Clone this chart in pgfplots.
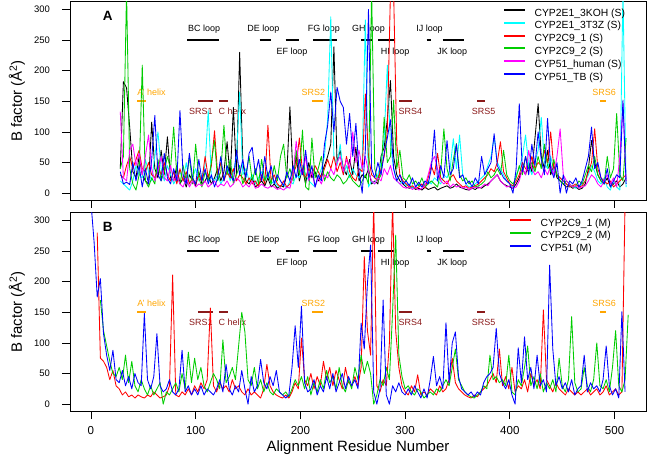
\documentclass[border=0pt]{standalone}
\usepackage{fontspec}
\setmainfont{Liberation Sans}
\usepackage{pgfplots}
\usepackage{pgfplotstable}
\pgfplotsset{compat=1.18}
\definecolor{cgreen}{RGB}{0,205,0}
\definecolor{ccyan}{RGB}{0,255,255}
\definecolor{cmagenta}{RGB}{255,0,255}
\definecolor{cdarkred}{RGB}{139,26,26}
\definecolor{corange}{RGB}{255,165,0}

\pgfplotstableread{
x k c r g m b
28 40 20 30 40 133 35
31 182 15 25 60 25 15
34 172 10 45 330 20 18
37 108 5 60 40 70 14
40 35 20 40 15 80 50
43 25 45 55 5 45 20
46 60 30 70 30 65 45
49 30 25 40 209 30 10
52 20 55 35 20 60 40
55 15 35 50 10 95 15
58 116 20 30 25 40 55
61 40 60 25 15 20 127
64 25 100 45 55 35 30
67 70 40 30 20 60 20
70 30 20 50 35 25 65
73 92 45 30 60 20 25
76 25 30 20 40 45 15
79 20 15 35 108 20 40
82 45 25 15 30 30 20
85 15 35 40 15 15 135
88 25 20 20 45 10 30
91 10 50 35 20 25 15
94 30 15 15 60 10 65
97 20 25 25 15 20 25
100 12 40 15 80 10 15
103 35 20 30 25 15 55
106 15 30 20 10 12 20
109 20 45 60 35 20 40
112 30 135 25 20 10 15
115 15 25 45 50 15 30
118 25 20 102 86 20 10
121 40 30 30 20 10 25
124 20 15 50 35 15 60
127 35 25 20 111 12 20
130 84 40 35 30 20 45
133 25 20 25 55 10 30
136 140 35 40 15 15 20
139 30 60 20 30 25 70
142 230 165 30 45 20 30
145 50 30 25 15 10 55
148 20 40 15 30 15 25
151 15 20 25 60 10 65
154 25 30 15 20 20 75
157 10 15 20 40 8 30
160 15 25 10 15 10 55
163 20 35 30 55 15 20
166 12 20 15 20 10 60
169 25 30 111 35 8 25
172 10 15 20 15 12 45
175 15 20 30 45 10 15
178 8 12 15 20 6 30
181 12 10 10 60 8 20
184 10 15 20 80 5 12
187 30 8 10 25 10 35
190 141 20 15 40 8 20
193 25 15 30 20 30 45
196 60 30 45 70 85 25
199 20 25 90 30 40 55
202 40 45 35 103 30 30
205 15 30 25 10 60 70
208 50 20 40 5 20 25
211 25 15 30 90 35 45
214 35 10 45 25 10 10
217 20 25 35 40 25 30
220 30 40 25 60 15 20
223 45 60 40 20 30 80
226 60 120 55 35 25 110
229 80 288 40 25 40 165
232 239 60 60 20 30 100
235 50 45 35 30 50 173
238 70 80 50 25 60 150
241 40 30 30 15 35 140
244 30 45 60 20 55 80
247 55 25 35 30 40 130
250 30 40 25 20 100 60
253 75 30 20 15 50 114
256 20 25 40 10 70 35
259 30 50 35 20 40 0
262 25 283 162 30 60 70
265 40 10 60 15 35 300
268 15 20 30 330 20 40
271 20 15 25 40 15 25
274 15 30 20 20 25 50
277 60 50 40 30 20 30
280 75 90 60 124 40 65
283 120 209 100 50 30 90
286 184 80 330 60 45 120
289 60 40 330 152 25 40
292 30 20 80 40 20 20
295 20 15 30 70 15 30
298 15 20 20 25 10 15
301 10 12 15 20 8 20
304 8 15 10 30 10 12
307 10 8 12 15 6 25
310 6 10 8 20 10 10
313 8 15 10 12 5 18
316 5 10 15 25 8 10
319 10 12 8 10 12 20
322 6 20 25 15 30 15
325 8 15 45 20 50 40
328 10 25 30 15 60 103
331 5 20 65 10 40 20
334 8 15 25 35 20 45
337 10 30 20 105 15 25
340 12 25 15 40 20 86
343 8 40 25 20 10 30
346 10 89 30 55 15 40
349 15 40 20 81 10 80
352 10 95 15 30 12 25
355 8 30 10 20 8 30
358 6 15 12 25 10 15
361 5 10 8 15 5 20
364 8 12 10 20 8 10
367 6 15 12 10 10 25
370 10 20 15 12 8 15
373 8 25 20 15 10 60
376 12 30 25 20 15 30
379 15 45 30 35 12 40
382 20 60 40 25 20 50
385 25 92 35 30 25 97
388 30 50 50 40 30 45
391 20 40 84 30 20 35
394 15 30 35 70 15 25
397 12 20 25 30 10 20
400 10 15 15 20 12 15
403 8 10 12 15 8 0
406 15 30 20 25 10 40
409 25 40 30 45 20 146
412 40 60 50 30 40 35
415 30 95 40 60 30 60
418 50 45 35 40 70 30
421 35 30 60 50 40 80
424 90 50 40 35 30 45
427 146 70 50 60 35 100
430 60 124 45 40 25 55
433 40 50 70 80 40 30
436 70 40 50 45 30 122
439 30 60 100 35 45 40
442 45 35 40 55 30 25
445 25 30 30 30 60 50
448 20 25 25 20 105 0
451 15 20 20 15 30 30
454 10 15 15 20 20 0
457 12 10 10 15 15 20
460 8 12 12 10 10 15
463 10 8 15 12 12 25
466 6 10 10 20 8 10
469 8 15 12 15 10 20
472 15 20 20 30 12 40
475 40 30 35 45 20 60
478 86 45 50 35 30 108
481 50 35 105 60 25 40
484 30 20 40 30 15 50
487 20 15 25 20 10 25
490 15 25 20 15 20 15
493 25 10 15 60 30 40
496 10 5 20 25 15 10
499 15 20 10 40 25 20
502 20 10 15 130 10 30
505 10 5 20 30 60 25
508 15 330 25 20 145 152
511 25 10 30 90 20 15
}\topdata

\pgfplotstableread{
x r g b
0 nan nan 330
3 nan nan 265
6 280 nan 175
9 75 170 205
12 70 120 115
15 60 95 80
18 40 70 55
21 55 50 88
24 30 45 40
27 25 60 35
30 15 40 55
33 20 80 30
36 12 35 45
39 15 70 25
42 10 30 50
45 15 20 35
48 12 40 30
51 10 25 148
54 15 15 40
57 12 30 25
60 20 15 45
63 15 25 115
66 10 35 30
69 12 0 20
72 15 20 25
75 30 15 40
78 211 25 20
81 15 35 15
84 12 20 25
87 20 50 88
90 15 25 20
93 25 85 30
96 15 35 15
99 30 75 25
102 20 40 15
105 35 60 30
108 25 30 15
111 40 20 25
114 157 35 20
117 30 50 15
120 20 40 25
123 35 25 40
126 25 105 20
129 30 35 65
132 20 45 25
135 40 60 15
138 25 40 30
141 30 95 20
144 20 150 55
147 15 118 25
150 25 40 0
153 15 30 45
156 20 60 20
159 15 25 30
162 10 40 73
165 25 20 35
168 65 35 25
171 30 20 45
174 20 15 30
177 15 25 55
180 12 20 20
183 10 15 15
186 15 20 10
189 10 12 15
192 20 25 60
195 35 40 128
198 25 30 60
201 108 45 160
204 40 25 35
207 30 45 20
210 50 15 25
213 25 35 40
216 45 20 15
219 30 40 30
222 70 25 20
225 40 55 45
228 60 35 25
231 30 45 50
234 55 25 20
237 40 60 35
240 25 30 50
243 60 20 25
246 35 40 45
249 30 25 30
252 45 60 40
255 30 40 25
258 60 80 132
261 241 50 90
264 120 70 197
267 80 50 260
270 330 0 20
273 30 15 0
276 20 40 25
279 40 30 170
282 30 60 15
285 100 40 0
288 330 150 30
291 120 276 20
294 60 80 35
297 30 45 20
300 20 25 15
303 15 30 25
306 30 20 15
309 20 15 30
312 48 25 20
315 15 20 10
318 20 10 25
321 15 15 10
324 25 20 40
327 20 15 78
330 15 25 30
333 30 20 45
336 20 30 25
339 25 40 133
342 40 30 35
345 75 60 100
348 35 90 118
351 25 40 45
354 20 30 25
357 15 20 20
360 12 15 15
363 10 12 20
366 15 10 12
369 12 15 20
372 20 20 15
375 25 30 35
378 30 25 45
381 40 80 50
384 50 40 60
387 35 45 124
390 90 35 50
393 30 40 35
396 45 30 25
399 25 80 40
402 60 20 15
405 20 15 0
408 30 40 92
411 25 30 35
414 40 60 110
417 20 95 40
420 50 30 60
423 30 45 25
426 40 25 80
429 25 50 30
432 154 20 40
435 40 35 20
438 30 25 227
441 20 40 90
444 35 20 30
447 25 75 45
450 20 30 25
453 15 20 35
456 25 40 20
459 20 143 40
462 15 35 15
465 20 20 25
468 15 25 30
471 20 60 80
474 25 30 20
477 15 20 35
480 20 40 25
483 25 100 30
486 15 30 20
489 20 25 40
492 30 40 95
495 15 20 30
498 20 60 15
501 25 120 25
504 15 30 10
507 20 20 151
510 330 40 20
513 nan 146 nan
}\botdata

\newcommand{\annfont}{\fontsize{9}{10}\selectfont}
\newcommand{\annots}{%
 \draw[line width=2bp] (axis cs:92,250) -- (axis cs:122,250);
 \node[font=\annfont] at (axis cs:108,267) {BC loop};
 \draw[line width=2bp] (axis cs:161,250) -- (axis cs:172,250);
 \node[font=\annfont] at (axis cs:164.6,267) {DE loop};
 \draw[line width=2bp] (axis cs:186,250) -- (axis cs:199,250);
 \node[font=\annfont] at (axis cs:192,231) {EF loop};
 \draw[line width=2bp] (axis cs:212,250) -- (axis cs:235,250);
 \node[font=\annfont] at (axis cs:222.4,267) {FG loop};
 \draw[line width=2bp] (axis cs:258,250) -- (axis cs:269,250);
 \node[font=\annfont] at (axis cs:265,267) {GH loop};
 \draw[line width=2bp] (axis cs:274.5,250) -- (axis cs:289.7,250);
 \node[font=\annfont] at (axis cs:290.4,231) {HI loop};
 \draw[line width=2bp] (axis cs:320.6,250) -- (axis cs:324.6,250);
 \node[font=\annfont] at (axis cs:323.3,267) {IJ loop};
 \draw[line width=2bp] (axis cs:335.9,250) -- (axis cs:356,250);
 \node[font=\annfont] at (axis cs:345,231) {JK loop};
 \draw[line width=2bp,corange] (axis cs:44,150) -- (axis cs:53,150);
 \node[font=\annfont,text=corange] at (axis cs:57.8,165) {A' helix};
 \draw[line width=2bp,cdarkred] (axis cs:102,150) -- (axis cs:117,150);
 \node[font=\annfont,text=cdarkred] at (axis cs:105,134) {SRS1};
 \draw[line width=2bp,cdarkred] (axis cs:122.7,150) -- (axis cs:130.7,150);
 \node[font=\annfont,text=cdarkred] at (axis cs:135,134) {C helix};
 \draw[line width=2bp,corange] (axis cs:211,150) -- (axis cs:221.4,150);
 \node[font=\annfont,text=corange] at (axis cs:212.4,165) {SRS2};
 \draw[line width=2bp,cdarkred] (axis cs:294.5,150) -- (axis cs:307,150);
 \node[font=\annfont,text=cdarkred] at (axis cs:305,134) {SRS4};
 \draw[line width=2bp,cdarkred] (axis cs:369,150) -- (axis cs:376.5,150);
 \node[font=\annfont,text=cdarkred] at (axis cs:375,134) {SRS5};
 \draw[line width=2bp,corange] (axis cs:486,150) -- (axis cs:491.7,150);
 \node[font=\annfont,text=corange] at (axis cs:490,165) {SRS6};
}

\pgfplotsset{
 legend image code/.code={\draw[#1,draw=.,line width=2bp] (0bp,3.6bp) -- (21bp,3.6bp); \path (30bp,0bp);},
 common/.style={
  scale only axis, width=576bp, height=199bp,
  xmin=-20, xmax=530, ymin=-12, ymax=313,
  xtick={0,100,200,300,400,500}, ytick={0,50,100,150,200,250,300},
  tick align=outside, tick pos=left, major tick length=7.5bp,
  axis line style={line width=0.8bp},
  every tick/.style={black, line width=0.8bp},
  /pgf/number format/assume math mode=true,
  yticklabel style={font=\fontsize{9.5}{11}\selectfont, anchor=east, inner sep=0pt, xshift=-12.3bp},
  xticklabel style={font=\fontsize{11.6}{14}\selectfont, anchor=north, inner sep=0pt, yshift=-7.5bp},
  ylabel={B factor (Å\textsuperscript{2})},
  ylabel style={font=\fontsize{15}{18}\selectfont, at={(axis description cs:-0.092,0.5)}, anchor=center},
  no markers,
  every axis plot/.append style={line width=0.85bp, line join=round},
  legend style={draw=none, fill=none, inner sep=0pt, font=\fontsize{10.4}{12}\selectfont, row sep=0pt,
    nodes={inner sep=0pt, text height=8.8bp, text depth=4bp}},
  legend cell align=left,
 }
}

\begin{document}
\begin{tikzpicture}
\useasboundingbox (0,0) rectangle (648bp,458bp);
\begin{axis}[common, at={(70bp,257.5bp)}, anchor=south west, xticklabels={},
  legend style={at={(axis description cs:0.7517,0.972)}, anchor=north west}]
 \annots
 \node[font=\fontsize{13.5}{15}\selectfont\bfseries] at (axis cs:16,289) {A};
 \addplot[black] table[x=x,y=k]{\topdata};
 \addplot[ccyan] table[x=x,y=c]{\topdata};
 \addplot[red] table[x=x,y=r]{\topdata};
 \addplot[cgreen] table[x=x,y=g]{\topdata};
 \addplot[cmagenta] table[x=x,y=m]{\topdata};
 \addplot[blue] table[x=x,y=b]{\topdata};
 \legend{CYP2E1\_3KOH (S), CYP2E1\_3T3Z (S), CYP2C9\_1 (S), CYP2C9\_2 (S), CYP51\_human (S), CYP51\_TB (S)}
\end{axis}
\begin{axis}[common, at={(70bp,46.5bp)}, anchor=south west,
  xlabel={Alignment Residue Number},
  xlabel style={font=\fontsize{15}{18}\selectfont, at={(axis description cs:0.5,-0.181)}, anchor=center},
  legend style={at={(axis description cs:0.762,0.977)}, anchor=north west}]
 \annots
 \node[font=\fontsize{13.5}{15}\selectfont\bfseries] at (axis cs:16,289) {B};
 \addplot[red] table[x=x,y=r]{\botdata};
 \addplot[cgreen] table[x=x,y=g]{\botdata};
 \addplot[blue] table[x=x,y=b]{\botdata};
 \legend{CYP2C9\_1 (M), CYP2C9\_2 (M), CYP51 (M)}
\end{axis}
\end{tikzpicture}
\end{document}
